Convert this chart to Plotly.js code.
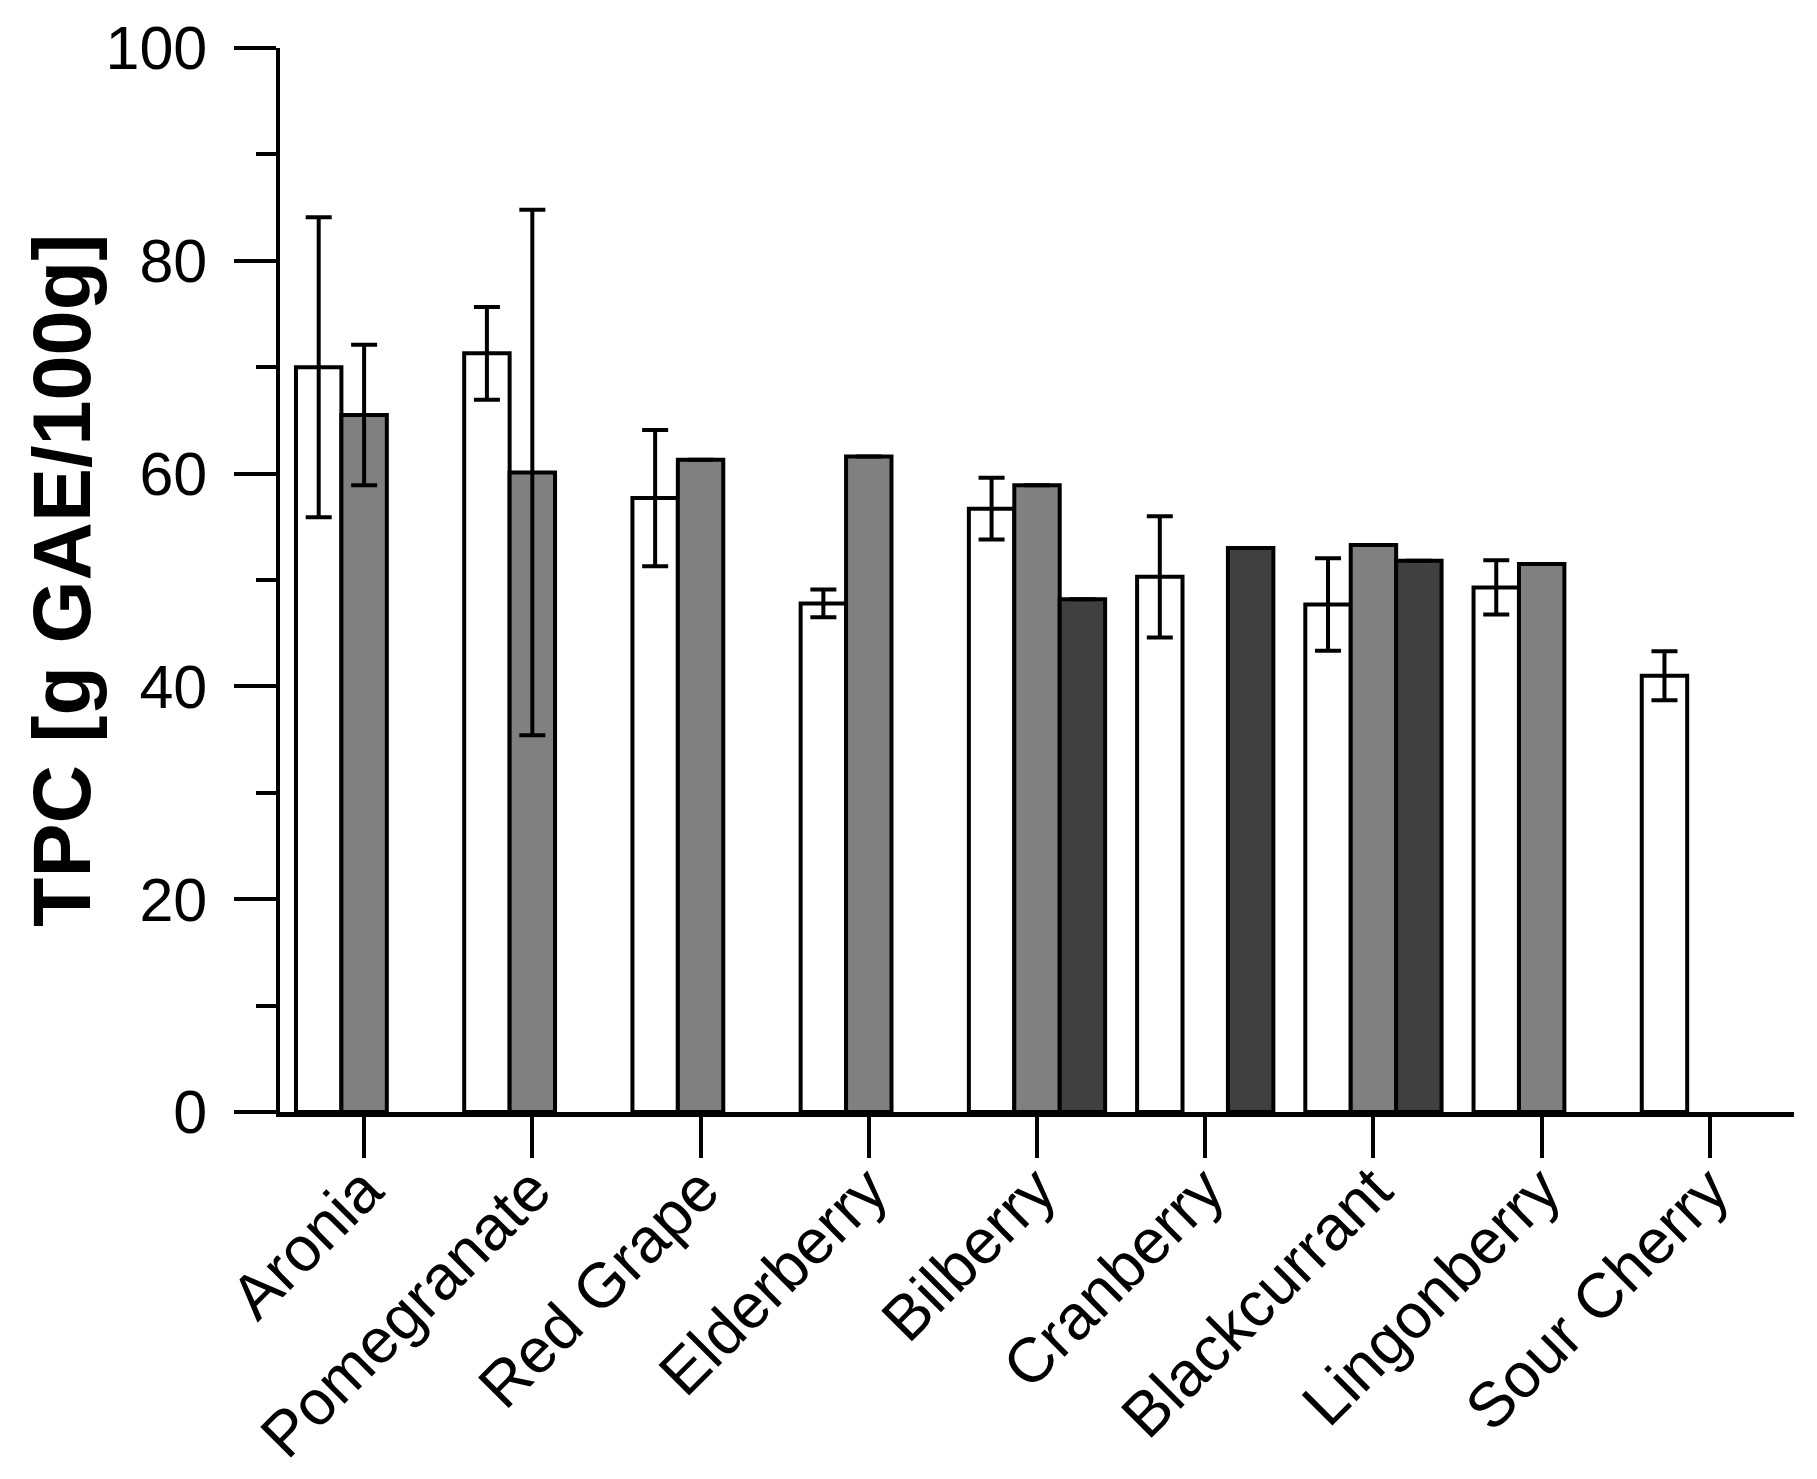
<!DOCTYPE html>
<html>
<head>
<meta charset="utf-8">
<script src="https://cdn.plot.ly/plotly-3.0.1.min.js"></script>
<style>
  html, body { margin: 0; padding: 0; background: #fff; }
  #chart { width: 1817px; height: 1479px; }
</style>
</head>
<body>
<div id="chart"></div>
<script>
// ── Données TPC par fruit ─────────────────────────────────────────────
const fruits = ['Aronia', 'Pomegranate', 'Red Grape', 'Elderberry', 'Bilberry',
                'Cranberry', 'Blackcurrant', 'Lingonberry', 'Sour Cherry'];

// série 1 (blanc), série 2 (gris), série 3 (gris foncé) ; null = pas de barre
const tpcWhite    = [70.0, 71.3, 57.7, 47.8, 56.7, 50.3, 47.7, 49.3, 41.0];
const errWhite    = [14.1, 4.35, 6.4, 1.3, 2.9, 5.7, 4.35, 2.55, 2.3];
const tpcGray     = [65.5, 60.1, 61.3, 61.6, 58.9, null, 53.3, 51.5, null];
const errGray     = [6.6, 24.7, 0, 0, 0, null, 0, 0, null];
const tpcDark     = [null, null, null, null, 48.2, 53.0, 51.8, null, null];
const errDark     = [null, null, null, null, 0, 0, 0, null, null];

const yTicks = [0, 20, 40, 60, 80, 100];
const yTitle = 'TPC [g GAE/100g]';

const FONT = 'Arial, "Liberation Sans", sans-serif';

function barTrace(y, err, fill) {
  return {
    type: 'bar', x: fruits, y: y,
    marker: { color: fill, line: { color: '#000', width: 4 } },
    error_y: { type: 'data', array: err, visible: true, color: '#000', thickness: 4, width: 13 },
    hoverinfo: 'x+y'
  };
}

const traces = [
  barTrace(tpcWhite, errWhite, '#ffffff'),
  barTrace(tpcGray, errGray, '#808080'),
  barTrace(tpcDark, errDark, '#404040')
];

const layout = {
  width: 1817, height: 1479,
  margin: { l: 280, r: 23, t: 48, b: 367 },
  paper_bgcolor: '#fff', plot_bgcolor: '#fff',
  barmode: 'group', bargap: 0.19, bargroupgap: 0,
  showlegend: false,
  font: { family: FONT, color: '#000' },
  xaxis: {
    type: 'category', range: [-0.5, 8.5],
    showline: true, linecolor: '#000', linewidth: 4.5,
    ticks: 'outside', ticklen: 41, tickwidth: 4, tickcolor: '#000',
    tickangle: -45, tickfont: { family: FONT, size: 63, color: '#000' },
    ticklabelstandoff: -30,
    showgrid: false, zeroline: false, fixedrange: true
  },
  yaxis: {
    range: [0, 100], tickvals: yTicks,
    showline: true, linecolor: '#000', linewidth: 4.5,
    ticks: 'outside', ticklen: 42, tickwidth: 4, tickcolor: '#000',
    minor: { dtick: 10, ticks: 'outside', ticklen: 20, tickwidth: 4, tickcolor: '#000' },
    tickfont: { family: FONT, size: 61, color: '#000' },
    ticklabelstandoff: 14,
    showgrid: false, zeroline: false, fixedrange: true
  },
  annotations: [{
    text: yTitle, textangle: -90, showarrow: false,
    xref: 'paper', yref: 'paper', x: -0.144, y: 0.5,
    xanchor: 'center', yanchor: 'middle',
    font: { family: FONT, size: 81, color: '#000', weight: 'bold' }
  }]
};

Plotly.newPlot('chart', traces, layout, { displayModeBar: false, staticPlot: true });
</script>
</body>
</html>
